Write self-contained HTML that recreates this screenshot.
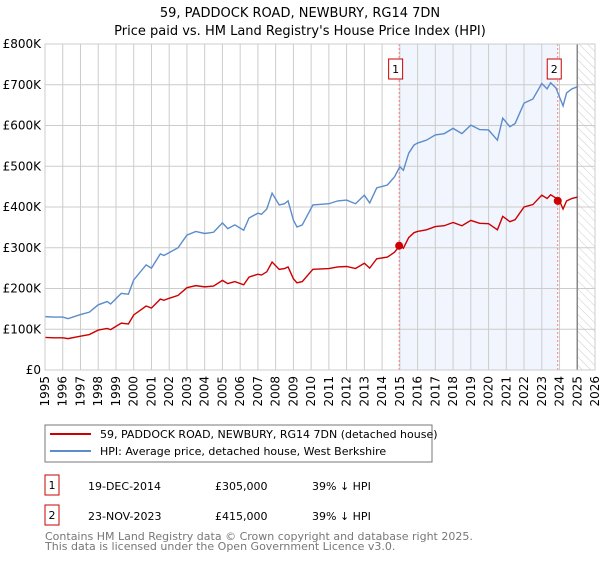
<!DOCTYPE html>
<html><head><meta charset="utf-8"><style>
body{margin:0;background:#fff;font-family:"Liberation Sans","DejaVu Sans",sans-serif;}
svg text{font-family:"DejaVu Sans","Liberation Sans",sans-serif;}
</style></head><body>
<svg id="c" width="600" height="560" viewBox="0 0 600 560">
<defs><pattern id="hatch" width="6" height="6" patternUnits="userSpaceOnUse" patternTransform="rotate(-45)"><line x1="0" y1="0" x2="0" y2="6" stroke="#ccc" stroke-width="1"/></pattern></defs>
<text x="300" y="17" text-anchor="middle" font-size="13">59, PADDOCK ROAD, NEWBURY, RG14 7DN</text>
<text x="300" y="35" text-anchor="middle" font-size="13">Price paid vs. HM Land Registry's House Price Index (HPI)</text>
<g id="plot"></g>
<rect x="45" y="425" width="387" height="37" fill="#fff" stroke="#777"/>
<line x1="50" y1="434" x2="91" y2="434" stroke="#cc0000" stroke-width="2"/>
<text x="100" y="438" font-size="11">59, PADDOCK ROAD, NEWBURY, RG14 7DN (detached house)</text>
<line x1="50" y1="451" x2="91" y2="451" stroke="#5b8ccc" stroke-width="2"/>
<text x="100" y="455" font-size="11">HPI: Average price, detached house, West Berkshire</text>
<g font-size="11">
<rect x="45" y="475" width="14" height="20" fill="#fff" stroke="#cc0000"/>
<text x="52" y="489" text-anchor="middle">1</text>
<text x="88" y="490">19-DEC-2014</text><text x="215" y="490">£305,000</text><text x="312" y="490">39% ↓ HPI</text>
<rect x="45" y="505" width="14" height="20" fill="#fff" stroke="#cc0000"/>
<text x="52" y="519" text-anchor="middle">2</text>
<text x="88" y="520">23-NOV-2023</text><text x="215" y="520">£415,000</text><text x="312" y="520">39% ↓ HPI</text>
</g>
<text x="45" y="540" font-size="11" fill="#777">Contains HM Land Registry data © Crown copyright and database right 2025.</text>
<text x="45" y="550" font-size="11" fill="#777">This data is licensed under the Open Government Licence v3.0.</text>
</svg>
<script>
const hpiYears=[1995,1995.5,1996,1996.3,1997,1997.5,1998,1998.5,1998.7,1999.3,1999.7,2000,2000.7,2001,2001.5,2001.7,2002,2002.5,2003,2003.5,2004,2004.5,2005,2005.3,2005.7,2006.2,2006.5,2007,2007.2,2007.5,2007.8,2008.2,2008.5,2008.7,2009,2009.2,2009.5,2010.1,2011,2011.5,2012,2012.5,2013,2013.3,2013.7,2014.3,2014.7,2015,2015.2,2015.5,2015.8,2016,2016.5,2017,2017.5,2018,2018.5,2019,2019.5,2020,2020.5,2020.8,2021.2,2021.5,2022,2022.5,2023,2023.3,2023.5,2023.8,2024,2024.2,2024.4,2024.7,2025];
const hpiValues=[131,130,130,126,136,142,160,168,162,188,186,221,258,250,285,281,288,300,331,340,335,338,361,347,356,343,373,385,382,395,434,405,408,415,368,351,356,405,408,415,417,408,429,410,447,454,474,499,490,532,552,557,564,577,580,593,580,601,590,589,564,618,597,605,655,665,703,690,705,692,670,648,680,690,695];
const priceValues=[80,79,79,77,83,87,98,102,99,115,113,135,157,152,174,171,176,183,202,207,204,206,220,212,217,209,228,235,233,241,265,247,249,253,224,214,217,247,249,253,254,249,262,250,273,277,289,305,299,325,337,340,344,352,354,362,354,367,360,359,344,377,364,369,400,406,429,421,430,422,415,395,415,421,424];
const sales=[{year:2014.96,value:305,label:"1"},{year:2023.9,value:415,label:"2"}];
const yTicks=[0,100,200,300,400,500,600,700,800];
const xTicks=[];for(let y=1995;y<=2026;y++)xTicks.push(y);
const X0=45,X1=595,Y0=370,Y1=44;
const xs=v=>X0+(v-1995)/(2026-1995)*(X1-X0);
const ys=v=>Y0-v/800*(Y0-Y1);
const NS="http://www.w3.org/2000/svg";
const g=document.getElementById('plot');
function mk(t,a){const e=document.createElementNS(NS,t);for(const k in a)e.setAttribute(k,a[k]);g.appendChild(e);return e;}
let e;
e=mk('rect',{x:xs(sales[0].year),y:Y1,width:xs(sales[1].year)-xs(sales[0].year),height:Y0-Y1,fill:'#eef3fd',opacity:0.8});


e=mk('rect',{x:xs(2025),y:Y1,width:X1-xs(2025),height:Y0-Y1,fill:'url(#hatch)'});


xTicks.forEach(t=>{e=mk('line',{x1:xs(t),x2:xs(t),y1:Y1,y2:Y0,stroke:'#ccc'});


e=mk('text',{x:0,y:0,'font-size':12,'text-anchor':'end',transform:`translate(${xs(t)+4},${Y0+6}) rotate(-90)`});e.textContent=t;

});
yTicks.forEach(t=>{e=mk('line',{x1:X0,x2:X1,y1:ys(t),y2:ys(t),stroke:'#ccc'});


e=mk('text',{x:X0-4,y:ys(t)+4,'font-size':12,'text-anchor':'end'});e.textContent=t===0?'£0':'£'+t+'K';

});
e=mk('line',{x1:xs(2025),x2:xs(2025),y1:Y1,y2:Y0,stroke:'#888','stroke-width':1.5});


sales.forEach(s=>{e=mk('line',{x1:xs(s.year),x2:xs(s.year),y1:Y1,y2:Y0,stroke:'#f08080','stroke-dasharray':'2,2'});

});
function path(vals,col,name){e=mk('polyline',{points:hpiYears.map((y,i)=>xs(y)+','+ys(vals[i])).join(' '),fill:'none',stroke:col,'stroke-width':1.4});

}
path(hpiValues,'#5b8ccc','hpi-line');
path(priceValues,'#cc0000','price-line');
sales.forEach(s=>{e=mk('circle',{cx:xs(s.year),cy:ys(s.value),r:4,fill:'#cc0000'});


e=mk('rect',{x:xs(s.year)-10.5,y:59,width:14,height:20,fill:'#fff',stroke:'#cc0000'});


e=mk('text',{x:xs(s.year)-3.5,y:73,'font-size':11,'text-anchor':'middle'});e.textContent=s.label;

});
e=mk('rect',{x:X0,y:Y1,width:X1-X0,height:Y0-Y1,fill:'none',stroke:'#ccc'});


</script>
</body></html>
